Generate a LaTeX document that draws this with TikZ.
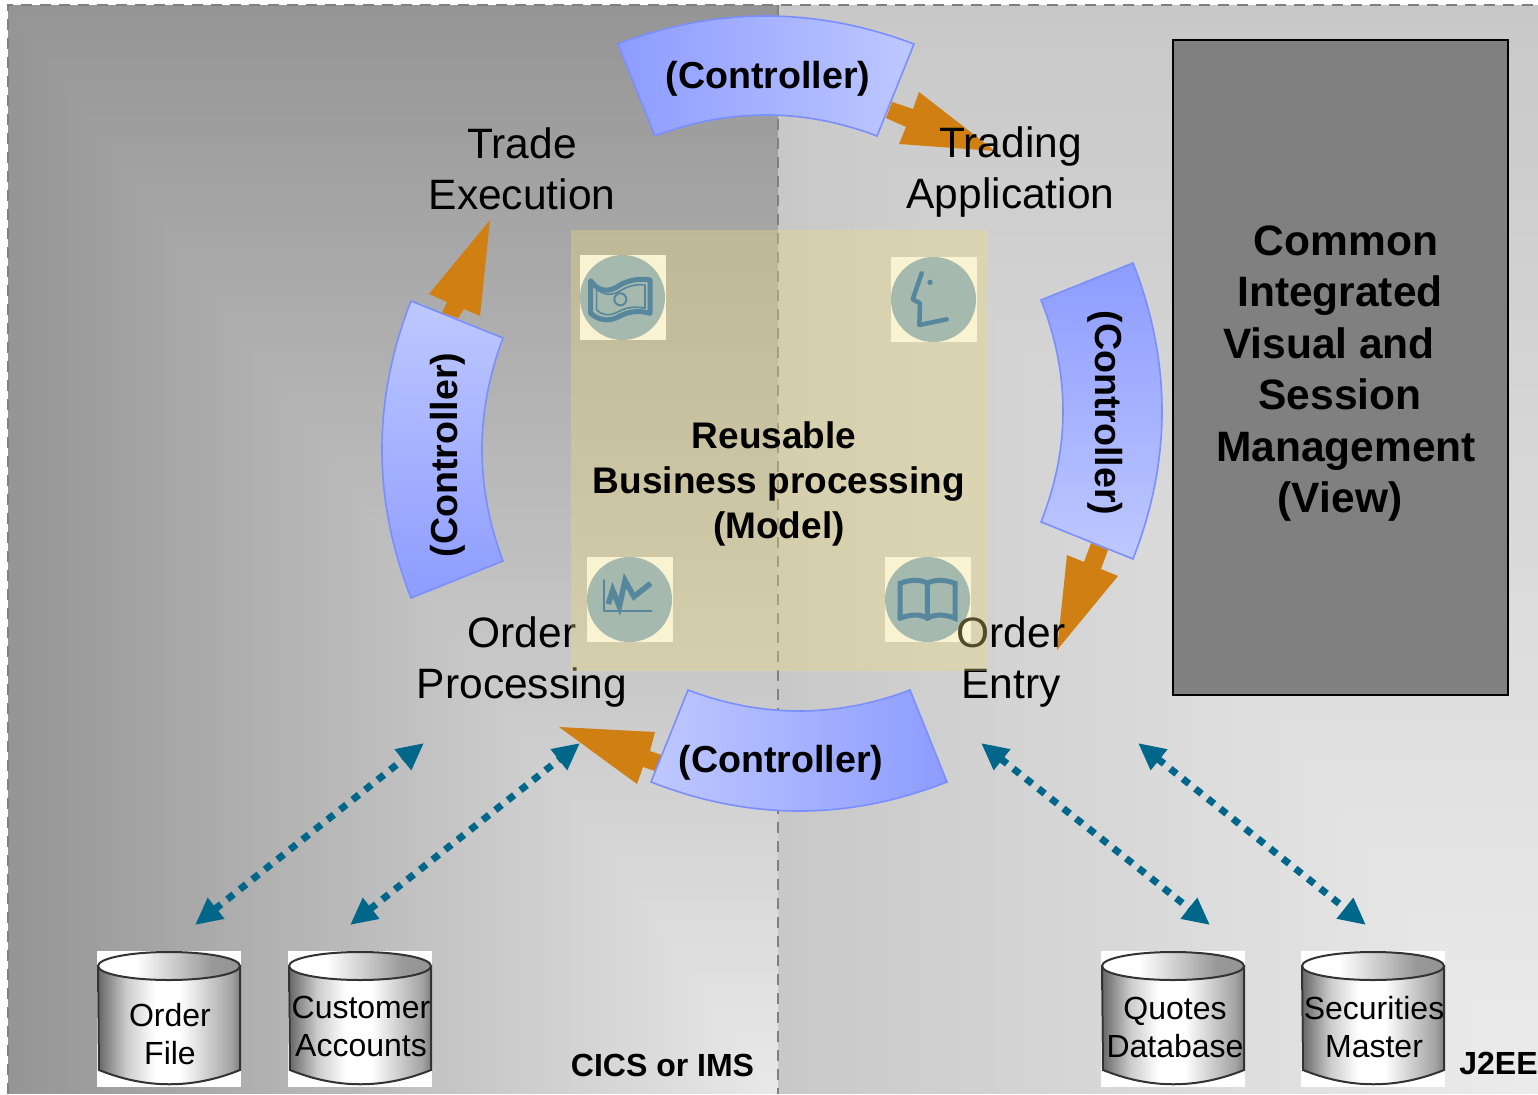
\documentclass[tikz,border=0pt]{standalone}
\usepackage{fontspec}
\setmainfont{Liberation Sans}
\usetikzlibrary{arrows.meta}
\definecolor{orng}{RGB}{208,128,18}
\definecolor{ctlA}{RGB}{141,156,255}
\definecolor{ctlB}{RGB}{190,200,255}
\definecolor{ctlE}{RGB}{122,143,255}
\definecolor{teal}{RGB}{0,102,138}
\definecolor{modelc}{RGB}{238,220,122}
\definecolor{iconc}{RGB}{129,167,202}
\definecolor{iconi}{RGB}{8,92,174}
\pgfdeclarehorizontalshading{cylbody}{100bp}{color(0bp)=(black!60); color(25bp)=(black!60); color(35bp)=(black!20); color(45bp)=(white); color(54bp)=(white); color(65bp)=(black!22); color(72bp)=(black!36); color(75bp)=(black!50); color(100bp)=(black!50)}
\pgfdeclarehorizontalshading{cyltop}{100bp}{color(0bp)=(white); color(25bp)=(white); color(38bp)=(white); color(55bp)=(black!25); color(65bp)=(black!40); color(75bp)=(black!42); color(100bp)=(black!42)}
\tikzset{
  ctrl/.style={draw=ctlE,line width=1.6pt,line join=miter},
  ctrltext/.style={inner sep=0pt,font=\fontsize{37.6}{44}\selectfont\bfseries},
  lbl/.style={inner sep=0pt,align=center,font=\fontsize{42.5}{51}\selectfont},
  dbtext/.style={inner sep=0pt,align=center,font=\fontsize{32}{38}\selectfont},
  modeltext/.style={inner sep=0pt,align=center,font=\fontsize{37}{45}\selectfont\bfseries},
  viewtext/.style={inner sep=0pt,align=center,font=\fontsize{42.5}{51.5}\selectfont\bfseries},
  platform/.style={inner sep=0pt,font=\fontsize{32}{38}\selectfont\bfseries},
  blockarrow/.style={fill=orng,draw=none},
  datalink/.style={draw=teal,line width=7pt,dash pattern=on 8pt off 8pt,
     {Triangle[length=27pt,width=25pt]}-{Triangle[length=27pt,width=25pt]}},
  border/.style={draw=black!50,line width=2pt,dash pattern=on 11pt off 8pt},
  iconback/.style={fill=white,draw=none},
  icondisc/.style={fill=iconc,draw=none},
  iconink/.style={draw=iconi,line width=5pt,line join=round,line cap=round},
  cyledge/.style={draw=black!80,line width=2pt},
}
\newcommand{\dbcyl}[4]{%
  \fill[white] (#1,951) rectangle ++(144,136);
  \path[cyledge,shading=cylbody] (#1+1,966) -- (#1+2,1070) .. controls (#1+49,1089) and (#1+96,1089) .. (#1+143,1070) -- (#1+143,966) -- cycle;
  \path[cyledge,shading=cyltop] (#1+72,966) ellipse [x radius=71,y radius=14];
  \node[dbtext] (#2) at (#3) {#4};
}
\begin{document}
\begin{tikzpicture}[x=1pt,y=-1pt]
\useasboundingbox (0,0) rectangle (1538,1094);
\fill[white] (0,0) rectangle (1538,1094);
% panels: rectangular gradient out of the lower right corner
\foreach \k in {100,99,...,1}{
  \pgfmathsetmacro{\tt}{\k/100}
  \pgfmathsetmacro{\pa}{100*(1-(0.915-0.33*\tt))}
  \pgfmathsetmacro{\pb}{100*(1-(0.925-0.14*\tt))}
  \fill[black!\pa] (778-770*\tt,1094-1089*\tt) rectangle (778,1094);
  \fill[black!\pb] (1538-760*\tt,1094-1089*\tt) rectangle (1538,1094);
}
\draw[border] (8,1094) -- (8,5) -- (1538,5);
\draw[border] (778,5) -- (778,1094);
% view box
\node[draw=black,line width=2pt,fill=black!50,minimum width=335pt,minimum height=654pt,inner sep=0pt] (viewbox) at (1340,367.5) {};
\node[viewtext] (viewlabel) at (1340,373.5) {\hspace*{12pt}Common\\Integrated\\Visual and\hspace*{22pt}\mbox{}\\Session\\\hspace*{12pt}Management\\(View)};
% icons (under the translucent model box)
\node[iconback,minimum width=86pt,minimum height=85pt,inner sep=0pt] (iconA) at (623,297.5) {};
\node[iconback,minimum width=86pt,minimum height=85pt,inner sep=0pt] (iconB) at (934,299.5) {};
\node[iconback,minimum width=86pt,minimum height=85pt,inner sep=0pt] (iconC) at (630,599.5) {};
\node[iconback,minimum width=86pt,minimum height=85pt,inner sep=0pt] (iconD) at (928,599.5) {};
\fill[icondisc] (622.5,297.5) circle [radius=42.5];
\fill[icondisc] (933.5,299.5) circle [radius=42.5];
\fill[icondisc] (629.5,599.5) circle [radius=42.5];
\fill[icondisc] (927.5,599.5) circle [radius=42.5];
\begin{scope}[shift={(570,230)},x=.33333pt,y=-.33333pt]
  \draw[iconink] (62,152) .. controls (85,185) and (115,190) .. (150,165) .. controls (180,148) and (215,145) .. (240,150) -- (240,250) .. controls (205,240) and (175,245) .. (150,258) .. controls (115,278) and (85,270) .. (62,250) -- cycle;
  \draw[iconink,line width=1.6pt] (80,178) .. controls (110,200) and (130,195) .. (155,180) .. controls (180,165) and (205,162) .. (225,165) -- (225,235) .. controls (195,228) and (170,232) .. (145,245) .. controls (120,258) and (100,258) .. (80,240) -- cycle;
  \draw[iconink,line width=2pt] (151,208) circle [radius=18];
  \draw[iconink,line width=4.5pt] (1055,130) -- (1028,208) -- (1050,220) -- (1048,285) -- (1130,268);
  \fill[iconi] (1080,157) circle [radius=8];
\end{scope}
\begin{scope}[shift={(570,540)},x=.33333pt,y=-.33333pt]
  \draw[iconink,line width=2pt] (103,120) -- (103,212) -- (245,212);
  \draw[iconink,line width=5.5pt,line cap=butt,line join=miter] (115,192) -- (128,150) -- (148,200) -- (165,122) -- (192,170) -- (242,130);
  \draw[iconink,line width=5pt,line join=miter] (990,235) -- (990,130) .. controls (1020,118) and (1055,118) .. (1072,130) -- (1072,235);
  \draw[iconink,line width=5pt,line join=miter] (1072,130) .. controls (1092,118) and (1125,118) .. (1155,130) -- (1155,235) .. controls (1125,222) and (1092,222) .. (1072,235) .. controls (1055,222) and (1020,222) .. (990,235);
\end{scope}
% block arrows
\path[blockarrow] (886,118) -- (906,127) -- (899,144) -- (995,151) -- (919,92) -- (913,109) -- (892,102) -- cycle;
\path[blockarrow] (442,313) -- (447,302) -- (429,294) -- (490,220) -- (480,316) -- (464,309) -- (458,318) -- cycle;
\path[blockarrow] (1091,543) -- (1084,562) -- (1067,555) -- (1057,650) -- (1118,576) -- (1101,569) -- (1108,550) -- cycle;
\path[blockarrow] (662,755) -- (650,751) -- (655,732) -- (559,727) -- (637,784) -- (643,767) -- (655,771) -- cycle;
% controllers
\path[ctrl,left color=ctlA,right color=ctlB] (618,44) .. controls (716.7,6.7) and (815.3,6.7) .. (914,44) -- (877,136) .. controls (803,108) and (729,108) .. (655,136) -- cycle;
\path[ctrl,top color=ctlA,bottom color=ctlB] (1041,300) -- (1133,263) .. controls (1171.7,361.7) and (1171.7,460.3) .. (1133,559) -- (1041,522) .. controls (1070.3,448) and (1070.3,374) .. (1041,300) -- cycle;
\path[ctrl,left color=ctlB,right color=ctlA] (688,690) .. controls (762,718) and (836,718) .. (910,690) -- (947,782) .. controls (848.3,820.7) and (749.7,820.7) .. (651,782) -- cycle;
\path[ctrl,top color=ctlB,bottom color=ctlA] (411,301) -- (503,338) .. controls (475,412.3) and (475,486.7) .. (503,561) -- (411,598) .. controls (372.3,499) and (372.3,400) .. (411,301) -- cycle;
\node[ctrltext] (ctrlTop) at (768,79) {(Controller)};
\node[ctrltext] (ctrlBottom) at (781,763) {(Controller)};
\node[ctrltext,rotate=90] (ctrlLeft) at (448,455) {(Controller)};
\node[ctrltext,rotate=-90] (ctrlRight) at (1105,413) {(Controller)};
% labels
\node[lbl] (trade) at (522,169) {Trade\\Execution};
\node[lbl] (trading) at (1010.5,172.5) {Trading\\Application};
\node[lbl] (orderproc) at (522,662) {Order\\Processing};
\node[lbl] (orderentry) at (1011,662) {Order\\Entry};
% translucent model box
\fill[modelc,fill opacity=.34] (571,230) rectangle (987,671);
\node[modeltext] (model) at (779,484) {\hspace*{-10pt}Reusable\\Business processing\\(Model)};
% databases
\dbcyl{97}{dbA}{170,1034}{Order\\File}
\dbcyl{288}{dbB}{361,1026}{Customer\\Accounts}
\dbcyl{1101}{dbC}{1175,1027}{Quotes\\Database}
\dbcyl{1301}{dbD}{1374,1027}{Securities\\Master}
\node[platform] (cics) at (662.5,1065) {CICS or IMS};
\node[platform] (jee) at (1498.5,1063) {J2EE};
% data links
\coordinate (a1) at (195,925); \coordinate (a2) at (424,743);
\coordinate (b1) at (350,925); \coordinate (b2) at (580,743);
\coordinate (c1) at (981,743); \coordinate (c2) at (1210,925);
\coordinate (d1) at (1138,743); \coordinate (d2) at (1366,925);
\draw[datalink] (a1) -- (a2);
\draw[datalink] (b1) -- (b2);
\draw[datalink] (c1) -- (c2);
\draw[datalink] (d1) -- (d2);
\end{tikzpicture}
\end{document}
